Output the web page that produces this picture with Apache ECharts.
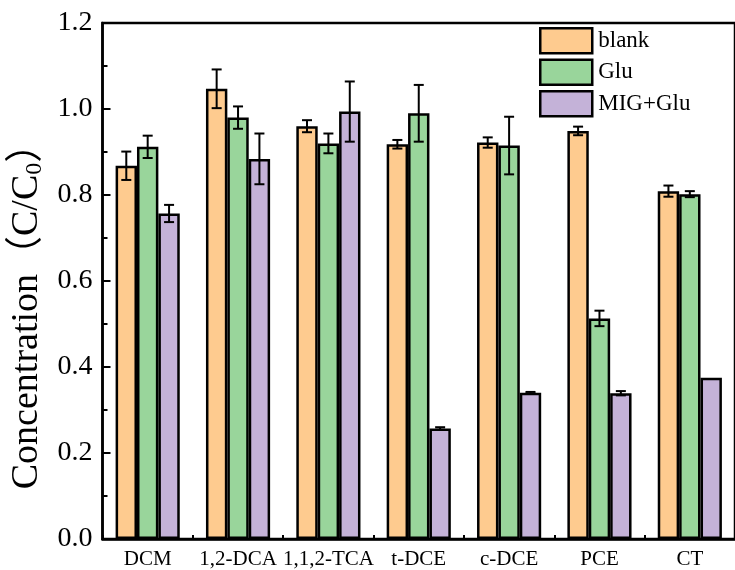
<!DOCTYPE html>
<html>
<head>
<meta charset="utf-8">
<script src="https://cdn.jsdelivr.net/npm/echarts@6/dist/echarts.min.js"></script>
<style>html,body{margin:0;padding:0;background:#fff}#c{width:735px;height:570px}</style>
</head>
<body>
<div id="c"></div>
<script>
const categories = ['DCM', '1,2-DCA', '1,1,2-TCA', 't-DCE', 'c-DCE', 'PCE', 'CT'];
const seriesNames = ['blank', 'Glu', 'MIG+Glu'];
const blank = [0.868, 1.047, 0.960, 0.918, 0.922, 0.949, 0.809];
const blankErr = [0.033, 0.045, 0.014, 0.010, 0.012, 0.010, 0.013];
const glu = [0.912, 0.980, 0.920, 0.990, 0.915, 0.513, 0.802];
const gluErr = [0.026, 0.026, 0.023, 0.066, 0.067, 0.018, 0.007];
const mig = [0.757, 0.884, 0.994, 0.257, 0.340, 0.339, 0.375];
const migErr = [0.020, 0.059, 0.070, 0.003, 0.002, 0.005, 0];
const yTicks = [0, 0.2, 0.4, 0.6, 0.8, 1.0, 1.2];

const colors = ['#FECB8F', '#99D59B', '#C4B2D8'];
const FONT = '"Liberation Serif", "Times New Roman", "Noto Sans CJK SC", serif';
const CAT_GAP = 0.29;
const values = [blank, glu, mig];
const errs = [blankErr, gluErr, migErr];

const chart = echarts.init(document.getElementById('c'), null, {renderer: 'canvas'});

const barSeries = seriesNames.map((name, k) => ({
  name: name,
  type: 'bar',
  data: values[k],
  barGap: '0%',
  barCategoryGap: (CAT_GAP * 100) + '%',
  itemStyle: {color: colors[k], borderColor: '#000', borderWidth: 2.5},
  emphasis: {disabled: true},
  z: 2
}));

const errSeries = seriesNames.map((name, k) => ({
  type: 'custom',
  name: name + '_err',
  z: 5,
  silent: true,
  encode: {x: 0, y: [1, 2]},
  data: values[k].map((v, i) => [i, v - errs[k][i], v + errs[k][i], errs[k][i]]),
  renderItem: function (params, api) {
    if (api.value(3) <= 0) return null;
    const i = api.value(0);
    const lo = api.coord([i, api.value(1)]);
    const hi = api.coord([i, api.value(2)]);
    const band = api.size([1, 0])[0];
    const bw = band * (1 - CAT_GAP) / 3;
    const x = lo[0] + (k - 1) * bw;
    const cap = 5;
    const st = {stroke: '#000', lineWidth: 2};
    return {
      type: 'group',
      children: [
        {type: 'line', shape: {x1: x, y1: lo[1], x2: x, y2: hi[1]}, style: st},
        {type: 'line', shape: {x1: x - cap, y1: lo[1], x2: x + cap, y2: lo[1]}, style: st},
        {type: 'line', shape: {x1: x - cap, y1: hi[1], x2: x + cap, y2: hi[1]}, style: st}
      ]
    };
  }
}));

const option = {
  backgroundColor: '#fff',
  animation: false,
  grid: {left: 100, right: -7, top: 23, bottom: 31, show: true, borderColor: '#000', borderWidth: 2.5, backgroundColor: 'transparent'},
  legend: {
    data: seriesNames,
    orient: 'vertical',
    left: 539, top: 27,
    padding: 0,
    itemGap: 4,
    itemWidth: 52, itemHeight: 25,
    icon: 'rect',
    itemStyle: {borderColor: '#000', borderWidth: 2.5},
    textStyle: {fontFamily: FONT, fontSize: 23, color: '#000', padding: [0, 0, 0, 1]},
    selectedMode: false
  },
  xAxis: [{
    type: 'category',
    data: categories,
    axisLine: {show: true, lineStyle: {color: '#000', width: 2.5}},
    axisTick: {show: true, inside: true, length: 4, lineStyle: {color: '#000', width: 2}},
    axisLabel: {fontFamily: FONT, fontSize: 21, color: '#000', margin: 10, interval: 0},
    splitLine: {show: false}
  }, {
    type: 'category',
    data: categories,
    position: 'bottom',
    axisLine: {show: false},
    axisTick: {show: true, inside: true, alignWithLabel: true, length: 6, lineStyle: {color: '#000', width: 2}},
    axisLabel: {show: false},
    splitLine: {show: false}
  }],
  yAxis: {
    type: 'value',
    min: 0, max: 1.2, interval: 0.2,
    name: '{m|Concentration（C/C}{s|0}{m|）}',
    nameLocation: 'middle',
    nameGap: 56,
    nameRotate: 90,
    nameTextStyle: {
      padding: [0, 52, 0, 0],
      rich: {
        m: {fontFamily: FONT, fontSize: 38, color: '#000'},
        s: {fontFamily: FONT, fontSize: 24, color: '#000', verticalAlign: 'bottom', padding: [15, 0, 0, 0]}
      }
    },
    axisLine: {show: true, lineStyle: {color: '#000', width: 2.5}},
    axisTick: {show: true, inside: true, length: 8, lineStyle: {color: '#000', width: 2}},
    minorTick: {show: true, splitNumber: 2, length: 5, lineStyle: {color: '#000', width: 2}},
    axisLabel: {fontFamily: FONT, fontSize: 28, color: '#000', margin: 10,
      formatter: v => (yTicks.some(t => Math.abs(t - v) < 1e-9) ? v.toFixed(1) : '')},
    splitLine: {show: false}
  },
  series: barSeries.concat(errSeries)
};
chart.setOption(option);
</script>
</body>
</html>
